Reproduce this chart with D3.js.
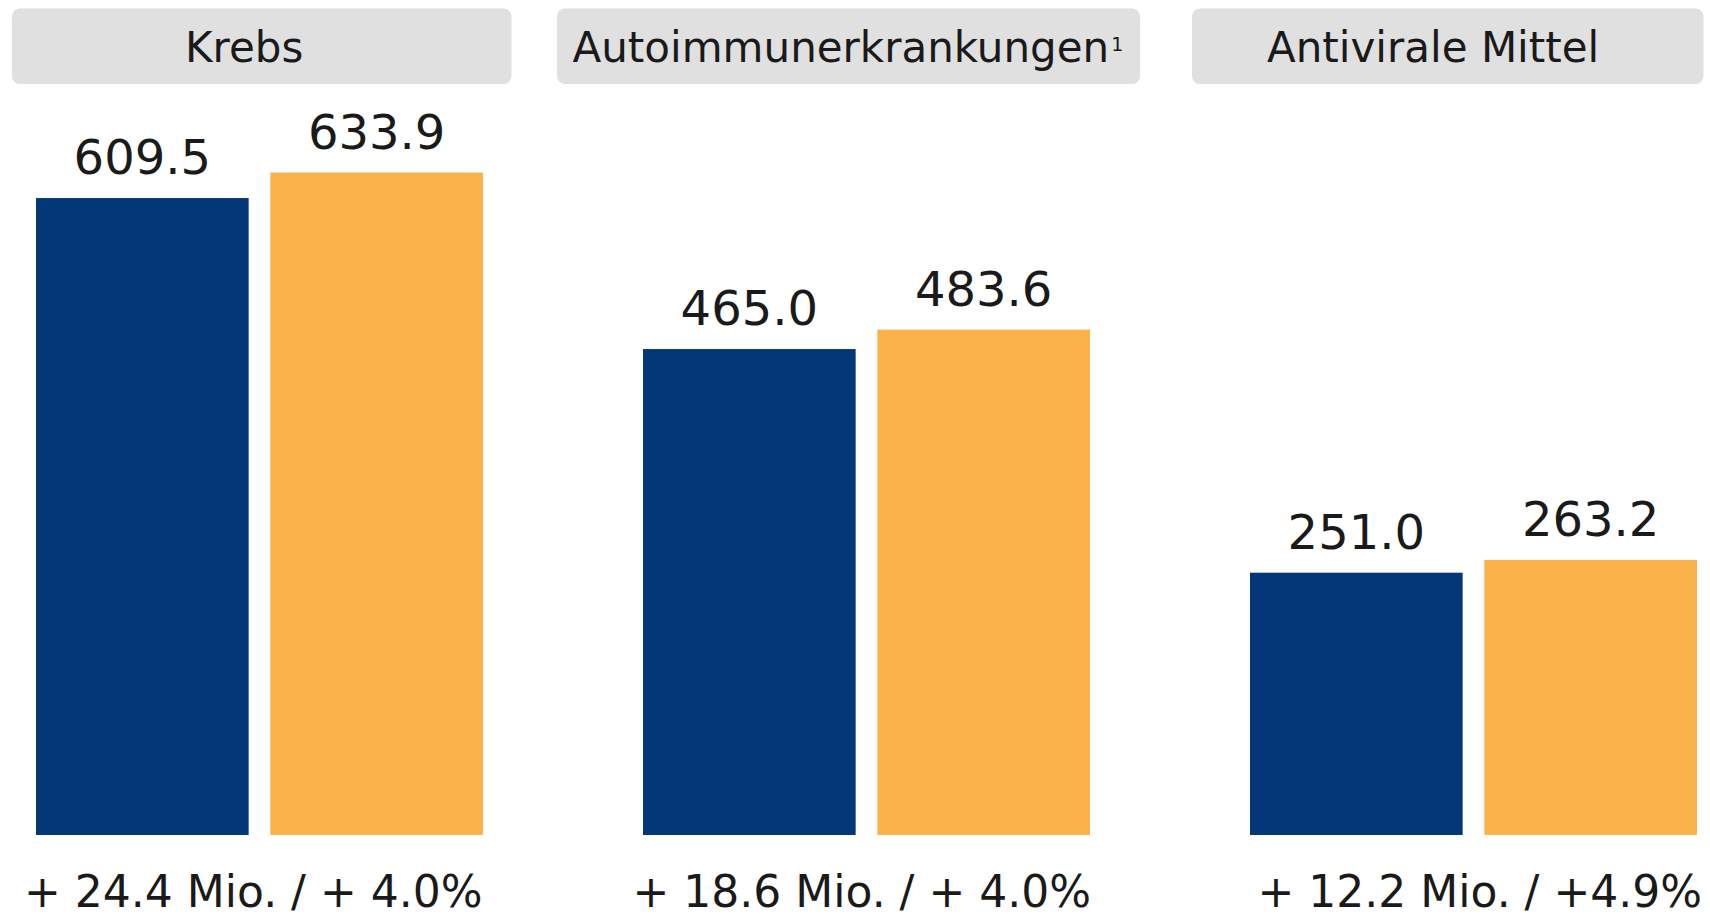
<!DOCTYPE html>
<html>
<head>
<meta charset="utf-8">
<script src="https://cdn.jsdelivr.net/npm/d3@7"></script>
<style>
  html, body { margin: 0; padding: 0; background: #ffffff; }
  svg { display: block; }
  text { font-family: "DejaVu Sans", Verdana, sans-serif; fill: #1a1a1a; }
</style>
</head>
<body>
<svg id="chart" width="1710" height="914"></svg>
<script>
// ---- Data ----
const categories = ["Krebs", "Autoimmunerkrankungen", "Antivirale Mittel"];
const categoryNotes = ["", "1", ""];
const seriesNames = ["Vorjahr", "Aktuell"];
const valuesPrevious = [609.5, 465.0, 251.0];
const valuesCurrent = [633.9, 483.6, 263.2];
const changeLabels = ["+ 24.4 Mio. / + 4.0%", "+ 18.6 Mio. / + 4.0%", "+ 12.2 Mio. / +4.9%"];

// ---- Layout (styles / positions) ----
const W = 1710, H = 914;
const baseY = 835;
const colors = ["#033778", "#FBB24B"];
const headerBoxes = [ {x: 12, w: 499.5}, {x: 557, w: 583}, {x: 1192, w: 511.5} ];
const headerTextX = [185, 572.5, 1267];
const changeTextX = [24, 632.5, 1257.5];

const svg = d3.select("#chart");

const x0 = d3.scaleBand().domain(categories).range([36, 1697]).paddingInner(0.2636).paddingOuter(0);
const x1 = d3.scaleBand().domain(seriesNames).range([0, x0.bandwidth()]).paddingInner(0.0926).paddingOuter(0);
const y = d3.scaleLinear().domain([0, 799]).range([baseY, baseY - 799 * 1.04505]);

const rows = categories.map((c, i) => ({
  cat: c, note: categoryNotes[i], change: changeLabels[i], idx: i,
  vals: [ {s: seriesNames[0], v: valuesPrevious[i], k: 0}, {s: seriesNames[1], v: valuesCurrent[i], k: 1} ]
}));

// Header boxes
const head = svg.selectAll("g.head").data(rows).join("g").attr("class", "head");
head.append("rect")
  .attr("x", d => headerBoxes[d.idx].x)
  .attr("y", 8.5)
  .attr("width", d => headerBoxes[d.idx].w)
  .attr("height", 75.5)
  .attr("rx", 8).attr("ry", 8)
  .attr("fill", "#e0e0e0");
const ht = head.append("text")
  .attr("x", d => headerTextX[d.idx])
  .attr("y", 61.5)
  .attr("font-size", 42);
ht.append("tspan").text(d => d.cat);
ht.filter(d => d.note).append("tspan")
  .attr("dx", 2).attr("dy", -11)
  .attr("font-size", 19)
  .text(d => d.note);

// Bars
const groups = svg.selectAll("g.grp").data(rows).join("g")
  .attr("class", "grp")
  .attr("transform", d => `translate(${x0(d.cat)},0)`);

groups.selectAll("rect").data(d => d.vals).join("rect")
  .attr("x", d => x1(d.s))
  .attr("width", x1.bandwidth())
  .attr("y", d => y(d.v))
  .attr("height", d => y(0) - y(d.v))
  .attr("fill", d => colors[d.k]);

groups.selectAll("text.val").data(d => d.vals).join("text")
  .attr("class", "val")
  .attr("x", d => x1(d.s) + x1.bandwidth() / 2)
  .attr("y", d => y(d.v) - 24)
  .attr("text-anchor", "middle")
  .attr("font-size", 48)
  .text(d => d3.format(".1f")(d.v));

// Change labels
svg.selectAll("text.chg").data(rows).join("text")
  .attr("class", "chg")
  .attr("x", d => changeTextX[d.idx])
  .attr("y", 907)
  .attr("font-size", 44)
  .text(d => d.change);
</script>
</body>
</html>
